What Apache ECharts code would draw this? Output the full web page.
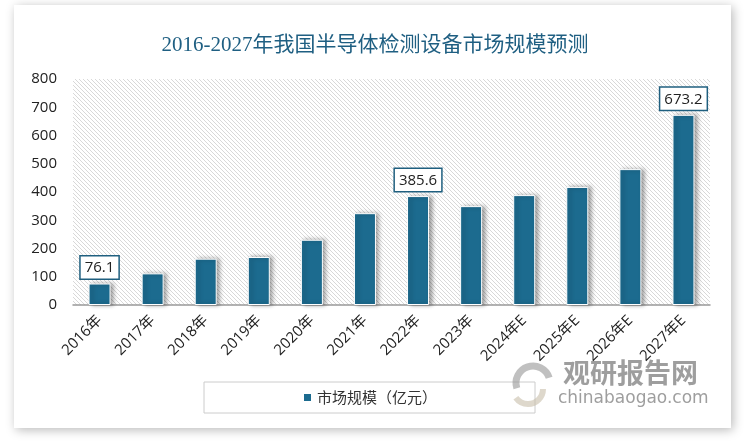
<!DOCTYPE html>
<html>
<head>
<meta charset="utf-8">
<script src="https://cdn.jsdelivr.net/npm/echarts@6/dist/echarts.min.js"></script>
<style>
html,body{margin:0;padding:0;background:#fff;}
#main{width:750px;height:445px;}
</style>
</head>
<body>
<div id="main"></div>
<script>
var titleText = '2016-2027年我国半导体检测设备市场规模预测';
var seriesName = '市场规模（亿元）';
var categories = ['2016年','2017年','2018年','2019年','2020年','2021年','2022年','2023年','2024年E','2025年E','2026年E','2027年E'];
var values = [76.1, 112, 164, 170, 231, 325, 385.6, 350, 389, 418, 481, 673.2];
var labeledIndex = [0, 6, 11];
var yTicks = {min: 0, max: 800, interval: 100};

var c = document.createElement('canvas');
c.width = 4; c.height = 4;
var ctx = c.getContext('2d');
ctx.fillStyle = '#ffffff';
ctx.fillRect(0, 0, 4, 4);
ctx.strokeStyle = '#d8d8d8';
ctx.lineWidth = 1;
ctx.beginPath();
ctx.moveTo(-4, 0); ctx.lineTo(4, 8);
ctx.moveTo(0, 0); ctx.lineTo(4, 4);
ctx.moveTo(0, -4); ctx.lineTo(8, 4);
ctx.moveTo(-4, -4); ctx.lineTo(4, 4);
ctx.stroke();

var chart = echarts.init(document.getElementById('main'), null, {renderer: 'canvas'});
var data = values.map(function (v, i) {
  var item = {value: v};
  if (labeledIndex.indexOf(i) >= 0) {
    item.label = {
      show: true, position: 'top', distance: 5,
      color: '#222', fontSize: 15, fontFamily: 'Open Sans, sans-serif',
      backgroundColor: '#fff', borderColor: '#1f5f7f', borderWidth: 1.5,
      padding: [4, 4, 3, 4]
    };
  }
  return item;
});

chart.setOption({
  backgroundColor: '#fff',
  animation: false,
  graphic: [
    {type: 'rect', shape: {x: 14, y: 5, width: 717, height: 423}, z: -10,
     style: {fill: '#fff', shadowColor: 'rgba(0,0,0,0.28)', shadowBlur: 10, shadowOffsetX: 2, shadowOffsetY: 2}},
    {type: 'arc', shape: {cx: 533, cy: 383, r: 17, startAngle: Math.PI * 0.9, endAngle: Math.PI * 1.9}, z: 10,
     style: {stroke: 'rgba(150,150,150,0.6)', lineWidth: 7, fill: null}},
    {type: 'arc', shape: {cx: 528, cy: 389, r: 15, startAngle: Math.PI * 0.0, endAngle: Math.PI * 0.8}, z: 10,
     style: {stroke: 'rgba(200,190,170,0.6)', lineWidth: 6, fill: null}},
    {type: 'text', left: 563, top: 359, z: 10,
     style: {text: '观研报告网', fill: 'rgba(125,125,125,0.75)', font: 'bold 27px "Noto Sans CJK SC"'}},
    {type: 'text', left: 558, top: 390, z: 10,
     style: {text: 'chinabaogao.com', fill: 'rgba(125,125,125,0.75)', font: '17px "DejaVu Sans"'}}
  ],
  title: {
    text: titleText, left: 'center', top: 30,
    textStyle: {color: '#1f5f82', fontSize: 21, fontWeight: 'normal', fontFamily: '"Liberation Serif", "Noto Sans CJK SC", serif'}
  },
  legend: {
    data: [seriesName], left: 204, top: 382,
    borderColor: '#cccccc', borderWidth: 1, padding: [8, 98, 8, 98],
    itemWidth: 9, itemHeight: 9, itemGap: 5, icon: 'rect',
    textStyle: {color: '#333', fontSize: 15, fontFamily: '"Noto Sans CJK SC", sans-serif'}
  },
  grid: {
    left: 73, right: 40, top: 79, bottom: 140,
    show: true, borderWidth: 0,
    backgroundColor: {image: c, repeat: 'repeat'}
  },
  xAxis: {
    type: 'category', data: categories,
    axisLine: {show: true, lineStyle: {color: '#999', width: 1.5}},
    axisTick: {show: false},
    axisLabel: {rotate: 45, color: '#222', fontSize: 15, margin: 13, interval: 0, fontFamily: '"Open Sans", "Noto Sans CJK SC", sans-serif'}
  },
  yAxis: {
    type: 'value', min: yTicks.min, max: yTicks.max, interval: yTicks.interval,
    axisLine: {show: false}, axisTick: {show: false}, splitLine: {show: false},
    axisLabel: {color: '#222', fontSize: 15, margin: 16, fontFamily: '"Open Sans", sans-serif'}
  },
  series: [{
    name: seriesName, type: 'bar', data: data, barWidth: 22,
    itemStyle: {color: '#1c6b8f', borderColor: '#ffffff', borderWidth: 1,
      shadowColor: 'rgba(0,0,0,0.35)', shadowBlur: 4, shadowOffsetX: 3, shadowOffsetY: 0}
  }]
});
</script>
</body>
</html>
